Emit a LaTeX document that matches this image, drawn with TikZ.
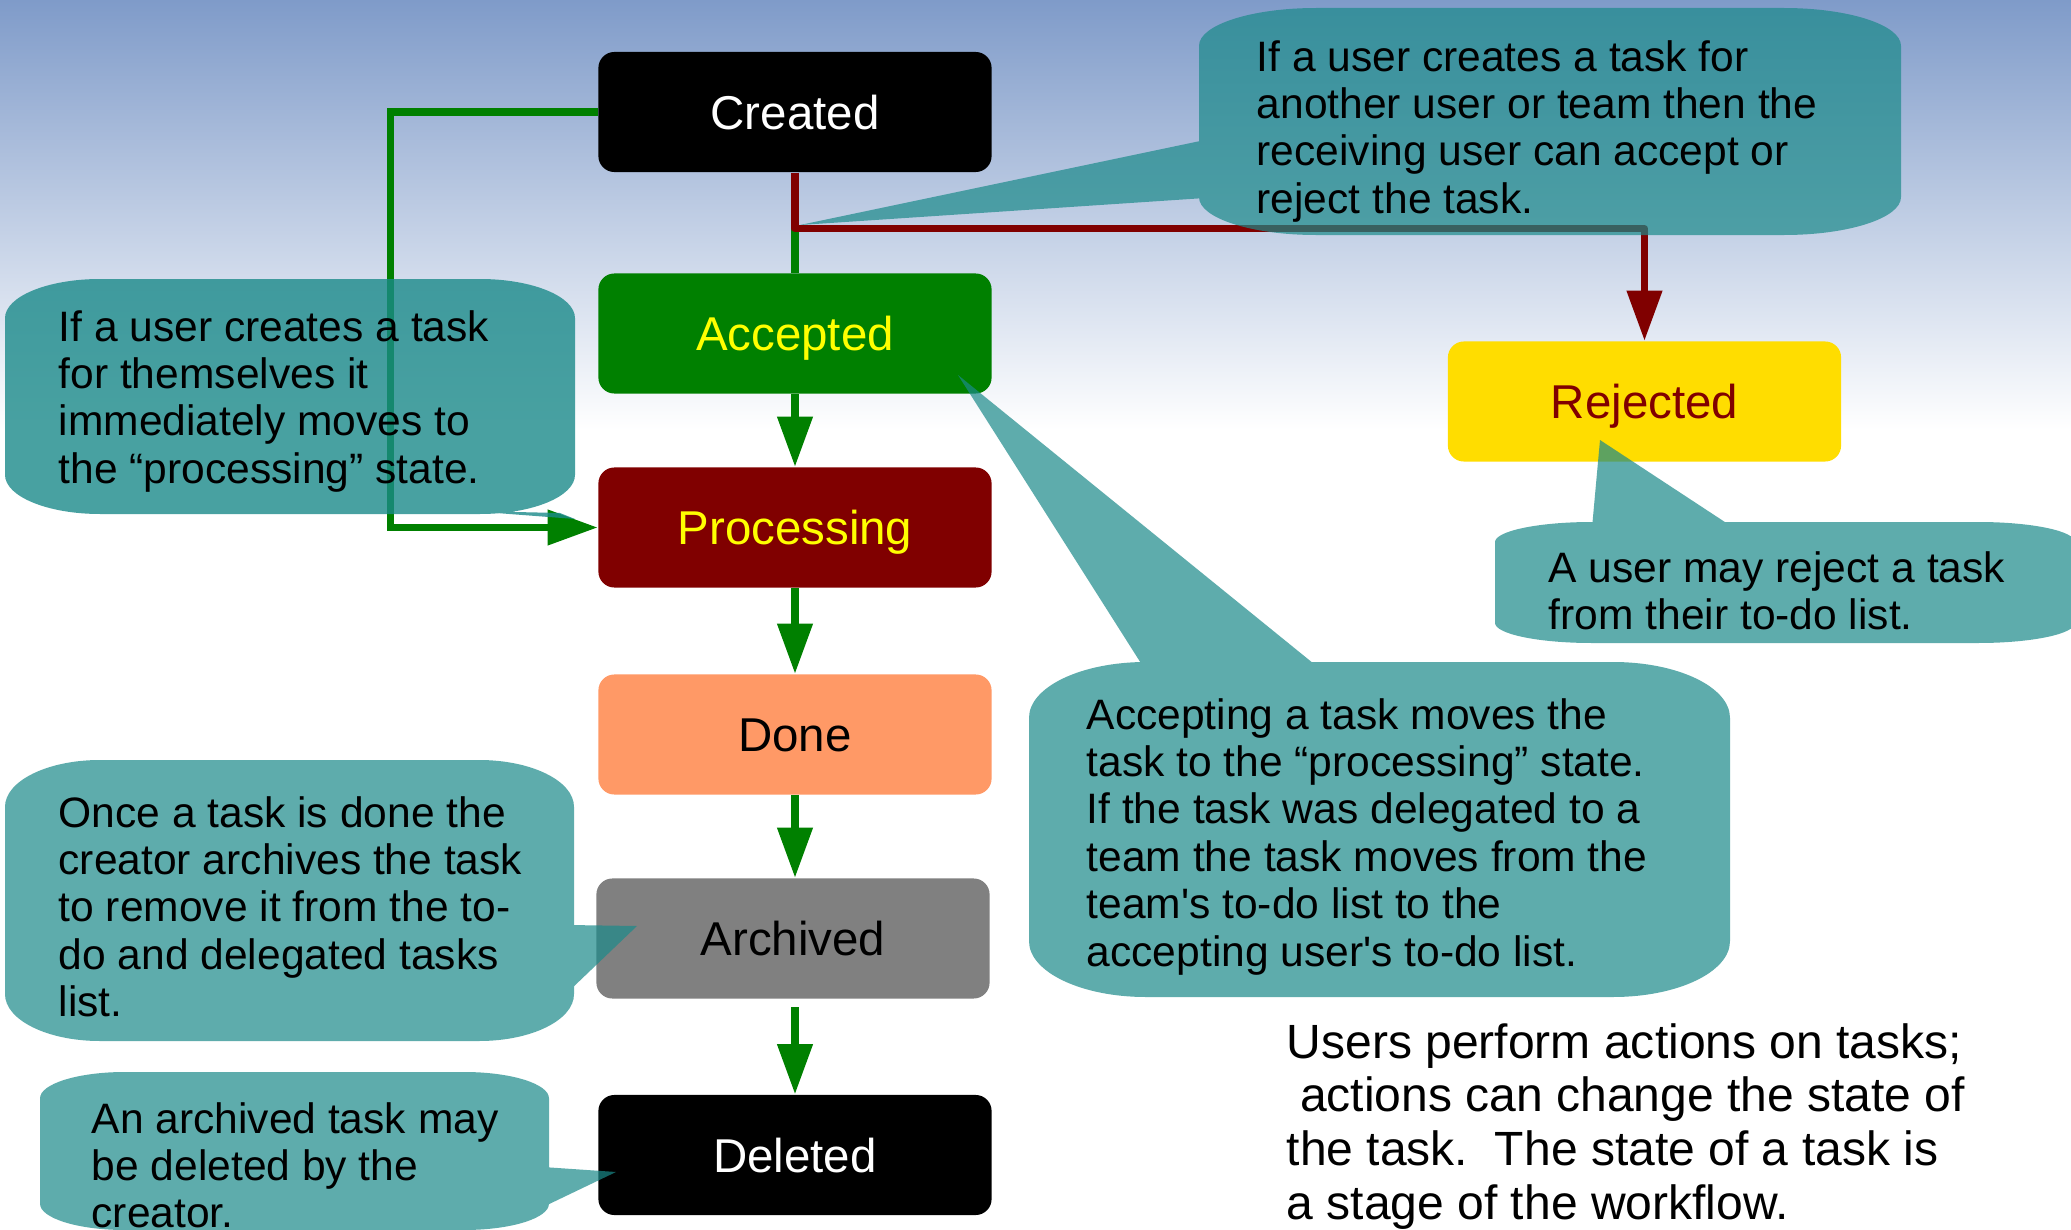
\documentclass[tikz,border=0pt]{standalone}
\usepackage{fontspec}
\setmainfont{Liberation Sans}[Ligatures=TeXOff]
\usetikzlibrary{arrows.meta}
\definecolor{bgtop}{RGB}{127,155,201}
\definecolor{calteal}{RGB}{27,138,138}
\definecolor{accgreen}{RGB}{0,128,0}
\definecolor{procred}{RGB}{128,0,0}
\definecolor{donecol}{RGB}{255,153,102}
\definecolor{archcol}{RGB}{128,128,128}
\definecolor{rejcol}{RGB}{255,221,0}
\definecolor{txtyellow}{RGB}{255,255,0}
\frenchspacing
\newcommand\callshape[6][0.7]{%
 \pgfmathsetmacro\crx{(#4-#2)/6}%
 \pgfmathsetmacro\cry{(#5-#3)/6}%
 \fill[calteal, opacity=#1]
 ({#2+\crx},#3) -- ({#4-\crx},#3) .. controls ({#4-0.4477*\crx},#3) and (#4,{#3+0.4477*\cry}) .. (#4,{#3+\cry})
 -- (#4,{#5-\cry}) .. controls (#4,{#5-0.4477*\cry}) and ({#4-0.4477*\crx},#5) .. ({#4-\crx},#5)
 -- ({#2+\crx},#5) .. controls ({#2+0.4477*\crx},#5) and (#2,{#5-0.4477*\cry}) .. (#2,{#5-\cry})
 -- (#2,{#3+\cry}) .. controls (#2,{#3+0.4477*\cry}) and ({#2+0.4477*\crx},#3) .. ({#2+\crx},#3) -- cycle
 #6 -- cycle;}
\newcommand\calltext[1]{\parbox[t]{10cm}{\raggedright\fontsize{12.1}{13.49}\selectfont #1}}
\newcommand\bigtext[1]{\parbox[t]{10cm}{\raggedright\fontsize{13.66}{15.28}\selectfont #1}}
\begin{document}
\begin{tikzpicture}[x=0.01cm, y=-0.01cm,
  state/.style={rectangle, rounded corners=0.16cm, minimum width=3.93cm, minimum height=1.2cm, inner sep=0pt, text height=0.34cm, text depth=0pt, font=\fontsize{13.5}{16}\selectfont},
  gline/.style={draw=accgreen, line width=0.072cm},
  rline/.style={draw=procred, line width=0.072cm, line join=round},
  arr/.style={-{Triangle[length=0.5cm,width=0.34cm]}},
  ctext/.style={anchor=base west, inner sep=0pt}]
\useasboundingbox (0,0) rectangle (2071,1230);
\fill[white] (0,0) rectangle (2071,1230);
\shade[top color=bgtop, bottom color=white] (0,0) rectangle (2071,430);

% states
\node[state, fill=black, text=white] (created) at (795,112) {Created};
\node[state, fill=accgreen, text=txtyellow] (accepted) at (795,333.5) {Accepted};
\node[state, fill=procred, text=txtyellow] (processing) at (795,527.5) {Processing};
\node[state, fill=donecol, text=black] (done) at (795,734.5) {Done};
\node[state, fill=archcol, text=black] (archived) at (793,938.5) {Archived};
\node[state, fill=black, text=white] (deleted) at (795,1155) {Deleted};
\node[state, fill=rejcol, text=procred] (rejected) at (1644.5,401.5) {Rejected};
\coordinate (adtop) at (795,1007);

% connectors
\draw[gline] (created.south) -- (accepted.north);
\draw[gline, arr] (created.west) -- ++(-207,0) |- (processing.west);
\draw[rline, arr] (created.south) -- ++(0,56) -| (rejected.north);
\draw[gline, arr] (accepted.south) -- (processing.north);
\draw[gline, arr] (processing.south) -- (done.north);
\draw[gline, arr] (done.south) -- (done.south |- archived.north);
\draw[gline, arr] (adtop) -- (deleted.north);

% callouts
\callshape[0.8]{5}{279}{575}{514}{(470,511) -- (560,513) -- (575,519)}
\callshape{1199}{8}{1901}{235}{(1205,140) -- (1205,198) -- (800,225)}
\callshape{1029}{662}{1730}{997}{(1144,668) -- (958,375) -- (1319,668)}
\callshape{1495}{522}{2075}{643}{(1592,528) -- (1600,440) -- (1734,528)}
\callshape{5}{760}{574}{1041}{(568,925) -- (637,926) -- (568,992)}
\callshape{40}{1072}{549}{1230}{(543,1167) -- (616,1172) -- (543,1207)}

\node[ctext] (t1) at (58,341) {\calltext{If a user creates a task\\ for themselves it\\ immediately moves to\\ the “processing” state.}};
\node[ctext] (t2) at (1256,71) {\calltext{If a user creates a task for\\ another user or team then the\\ receiving user can accept or\\ reject the task.}};
\node[ctext] (t3) at (1086,729) {\calltext{Accepting a task moves the\\ task to the “processing” state.\\ If the task was delegated to a\\ team the task moves from the\\ team's to-do list to the\\ accepting user's to-do list.}};
\node[ctext] (t4) at (1548,582) {\calltext{A user may reject a task\\ from their to-do list.}};
\node[ctext] (t5) at (58,827) {\calltext{Once a task is done the\\ creator archives the task\\ to remove it from the to-\\ do and delegated tasks\\ list.}};
\node[ctext] (t6) at (91,1133) {\calltext{An archived task may\\ be deleted by the\\ creator.}};
\node[ctext] (t7) at (1286,1058) {\bigtext{Users perform actions on tasks;\\ \mbox{}\ actions can change the state of\\ the task.\ \ The state of a task is\\ a stage of the workflow.}};
\end{tikzpicture}
\end{document}
